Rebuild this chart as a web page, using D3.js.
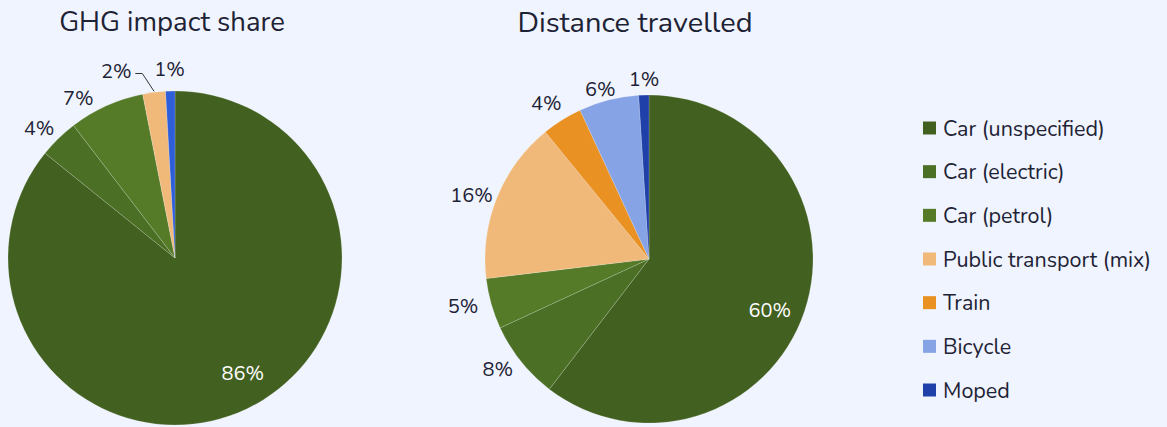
<!DOCTYPE html>
<html>
<head>
<meta charset="utf-8">
<script src="https://cdn.jsdelivr.net/npm/d3@7"></script>
<style>
  html, body { margin: 0; padding: 0; background: #eff4fe; }
  svg { display: block; font-family: "Nunito", "Lato", "Open Sans", sans-serif; }
</style>
</head>
<body>
<svg id="chart" width="1167" height="427"></svg>
<script>
"use strict";

// legend categories and their colours
const categories = ["Car (unspecified)", "Car (electric)", "Car (petrol)",
    "Public transport (mix)", "Train", "Bicycle", "Moped"];
const categoryColors = ["#426020", "#4b6f24", "#557b29", "#f0b97a", "#e99122", "#86a3e6", "#1f40a9"];

// GHG impact share (%)
const ghgCategories = ["Car (unspecified)", "Car (electric)", "Car (petrol)", "Public transport (mix)", "Moped"];
const ghgValues = [85.8, 3.8, 7.3, 2.2, 0.9];
const ghgLabels = ["86%", "4%", "7%", "2%", "1%"];

// Distance travelled (%)
const distCategories = ["Car (unspecified)", "Car (electric)", "Car (petrol)",
    "Public transport (mix)", "Train", "Bicycle", "Moped"];
const distValues = [60.4, 7.7, 5.0, 16.0, 4.0, 5.9, 1.0];
const distLabels = ["60%", "8%", "5%", "16%", "4%", "6%", "1%"];

const svg = d3.select("#chart");
const textColor = "#1e2235";

const color = d3.scaleOrdinal().domain(categories).range(categoryColors);

function drawPie(opts) {
    let g = svg.append("g")
        .attr("transform", "translate(" + opts.cx + "," + opts.cy + ")");

    svg.append("text")
        .attr("x", opts.titleX)
        .attr("y", opts.titleY)
        .attr("text-anchor", "middle")
        .attr("font-size", opts.titleSize)
        .attr("fill", textColor)
        .text(opts.title);

    let data = opts.values.map((v, i) => ({
        name: opts.categories[i],
        value: v,
        label: opts.labels[i]
    }));

    let pie = d3.pie().sort(null).value(d => d.value);
    let arc = d3.arc().innerRadius(0).outerRadius(opts.r);
    let arcs = pie(data);

    g.selectAll("path.slice")
        .data(arcs)
        .enter().append("path")
            .attr("class", "slice")
            .attr("d", arc)
            .attr("fill", d => (opts.colorOverride && opts.colorOverride[d.data.name]) || color(d.data.name))
            .attr("stroke", "rgba(255,255,255,0.25)")
            .attr("stroke-width", 0.7);

    // labels: outside end except the biggest slice which goes inside
    arcs.forEach((d, i) => {
        let mid = (d.startAngle + d.endAngle) / 2;
        let inside = i === 0;
        let rr = opts.r + 22;
        let x = Math.sin(mid) * rr,
            y = -Math.cos(mid) * rr;
        if (inside) {
            x = Math.sin(opts.insideAngle) * opts.r * 0.8;
            y = -Math.cos(opts.insideAngle) * opts.r * 0.8;
        }
        let nudge = (opts.nudges && opts.nudges[d.data.name]) || [0, 0];
        x += nudge[0];
        y += nudge[1];

        g.append("text")
            .attr("x", x)
            .attr("y", y)
            .attr("dy", "0.35em")
            .attr("text-anchor", "middle")
            .attr("font-size", 20)
            .attr("fill", inside ? "#ffffff" : textColor)
            .text(d.data.label);

        if (opts.leaders && opts.leaders[d.data.name]) {
            let ex = Math.sin(mid) * opts.r,
                ey = -Math.cos(mid) * opts.r;
            let lx = x + 19;
            g.append("path")
                .attr("d", d3.line()([[lx, y + 3], [lx + 7, y + 3], [ex, ey - 1]]))
                .attr("fill", "none")
                .attr("stroke", "#333")
                .attr("stroke-width", 1);
        }
    });
}

drawPie({
    title: "GHG impact share",
    titleX: 172, titleY: 31, titleSize: 27.5,
    cx: 175, cy: 258, r: 167,
    categories: ghgCategories,
    values: ghgValues,
    labels: ghgLabels,
    insideAngle: 2.61,
    colorOverride: { "Moped": "#2f5fd8" },
    nudges: { "Car (electric)": [-4, 5], "Car (petrol)": [-19, 12], "Public transport (mix)": [-35, 0] },
    leaders: { "Public transport (mix)": true }
});

drawPie({
    title: "Distance travelled",
    titleX: 635, titleY: 32, titleSize: 29,
    cx: 649, cy: 259, r: 164,
    categories: distCategories,
    values: distValues,
    labels: distLabels,
    insideAngle: 1.97,
    nudges: { "Car (electric)": [-6, -6], "Train": [-4, 2], "Bicycle": [-3, 10], "Moped": [1, 6], "Public transport (mix)": [-5, 6], "Car (petrol)": [-7, -4] }
});

// legend
const legend = svg.append("g").attr("transform", "translate(923,0)");
const legendY = d3.scalePoint().domain(categories).range([128, 390]);
categories.forEach(c => {
    legend.append("rect")
        .attr("x", 0)
        .attr("y", legendY(c) - 6.5)
        .attr("width", 13)
        .attr("height", 13)
        .attr("fill", color(c));
    legend.append("text")
        .attr("x", 20)
        .attr("y", legendY(c))
        .attr("dy", "0.36em")
        .attr("font-size", 21.5)
        .attr("fill", textColor)
        .text(c);
});
</script>
</body>
</html>
